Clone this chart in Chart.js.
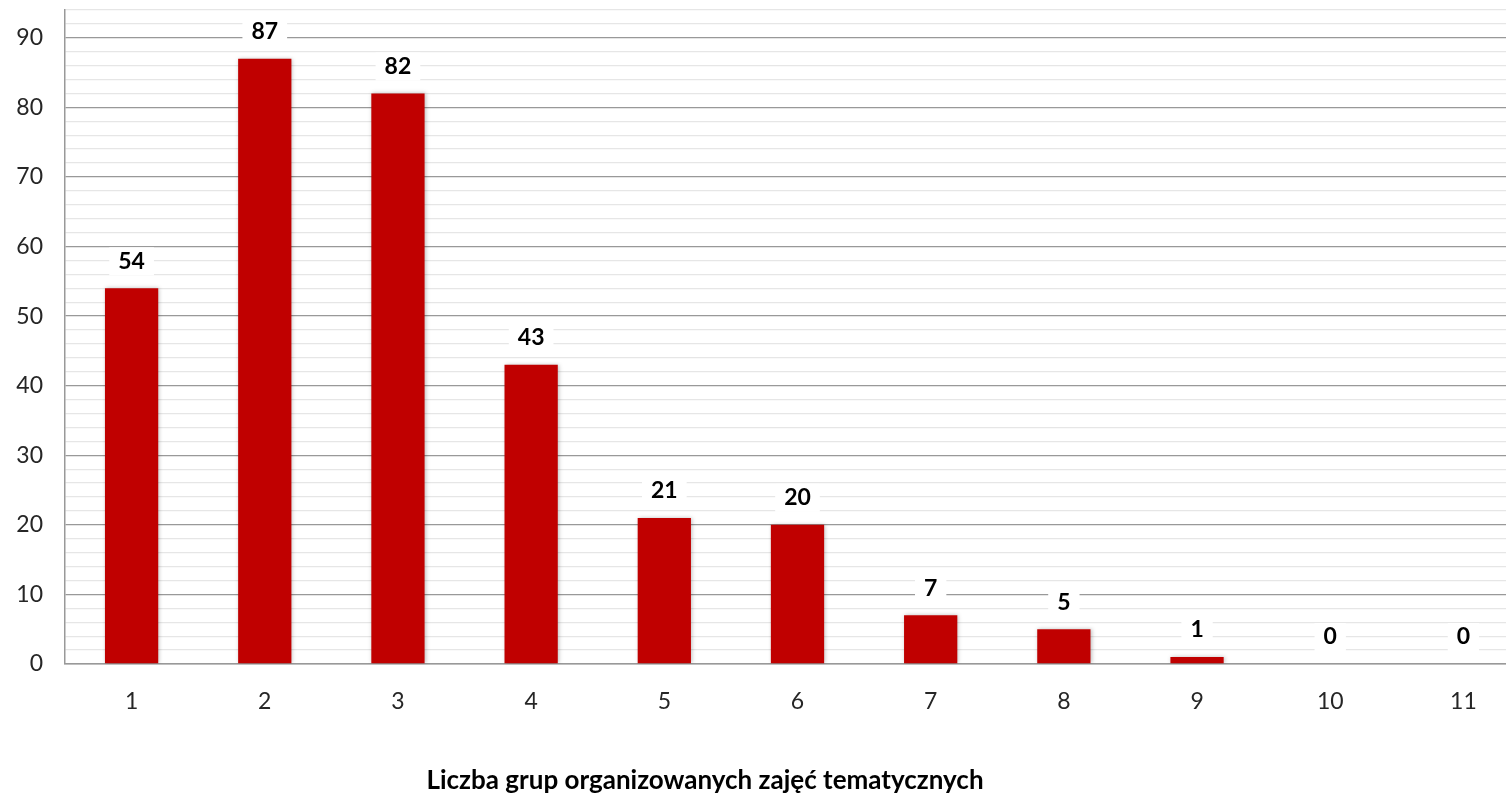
<!DOCTYPE html>
<html>
<head>
<meta charset="utf-8">
<script src="https://cdn.jsdelivr.net/npm/chart.js@4"></script>
<style>
  html, body { margin: 0; padding: 0; background: #fff; overflow: hidden; }
  #wrap { width: 1530px; height: 797px; }
</style>
</head>
<body>
<div id="wrap"><canvas id="groupsChart"></canvas></div>
<script>
// categories and values
const categories = ['1', '2', '3', '4', '5', '6', '7', '8', '9', '10', '11'];
const groupCounts = [54, 87, 82, 43, 21, 20, 7, 5, 1, 0, 0];
const axisTitle = 'Liczba grup organizowanych zajęć tematycznych';

//Value labels with a white box behind, like the original
const valueLabels = {
  id: 'valueLabels',
  afterDatasetsDraw(chart) {
    const ctx = chart.ctx;
    const meta = chart.getDatasetMeta(0);
    ctx.save();
    ctx.font = 'bold 23px Lato';
    ctx.textAlign = 'center';
    ctx.textBaseline = 'middle';
    meta.data.forEach((bar, i) => {
      const text = String(groupCounts[i]);
      const w = ctx.measureText(text).width + 18;
      const y = bar.y - 27;
      ctx.fillStyle = '#fff';
      ctx.fillRect(bar.x - w / 2, y - 14, w, 28);
      ctx.fillStyle = '#000';
      ctx.fillText(text, bar.x, y);
    });
    ctx.restore();
  }
};

//Axis title: the original sits left of the plot centre
const xTitle = {
  id: 'xTitle',
  afterDraw(chart) {
    const ctx = chart.ctx;
    ctx.save();
    ctx.font = 'bold 26px Lato';
    ctx.fillStyle = '#000';
    ctx.textAlign = 'center';
    ctx.textBaseline = 'middle';
    ctx.fillText(axisTitle, 705, 781);
    ctx.restore();
  }
};

//Soft shadow behind the bars
const barShadow = {
  id: 'barShadow',
  beforeDatasetsDraw(chart) {
    chart.ctx.save();
    chart.ctx.shadowColor = 'rgba(0,0,0,0.25)';
    chart.ctx.shadowBlur = 4;
    chart.ctx.shadowOffsetX = 1;
  },
  afterDatasetsDraw(chart) {
    chart.ctx.restore();
  }
};

new Chart(document.getElementById('groupsChart'), {
  type: 'bar',
  data: {
    labels: categories,
    datasets: [{
      data: groupCounts,
      backgroundColor: '#c00000',
      borderWidth: 0,
      barPercentage: 0.4,
      categoryPercentage: 1
    }]
  },
  options: {
    responsive: true,
    maintainAspectRatio: false,
    animation: false,
    layout: { padding: { top: 10, right: 0, left: 0, bottom: 0 } },
    plugins: { legend: { display: false }, tooltip: { enabled: false } },
    scales: {
      x: {
        afterFit(scale) {
          scale.height = 133;
          scale.paddingLeft = 0;
          scale.paddingRight = 0;
        },
        grid: { display: false, drawTicks: false },
        border: { color: '#999', width: 1.5 },
        ticks: { color: '#262626', font: { family: 'Lato', size: 23 }, padding: 24 }
      },
      y: {
        min: 0,
        max: 94,
        afterFit(scale) {
          scale.width = 65;
          scale.paddingTop = 0;
          scale.paddingBottom = 0;
        },
        border: { color: '#999', width: 1.5 },
        grid: {
          drawTicks: false,
          color: ctx => (ctx.tick && ctx.tick.value % 10 === 0) ? '#999' : '#e6e6e6',
          lineWidth: 1.3
        },
        ticks: {
          stepSize: 2,
          autoSkip: false,
          color: '#262626',
          font: { family: 'Lato', size: 23 },
          padding: 22,
          callback: v => v % 10 === 0 ? v : ''
        }
      }
    }
  },
  plugins: [barShadow, valueLabels, xTitle]
});
</script>
</body>
</html>
